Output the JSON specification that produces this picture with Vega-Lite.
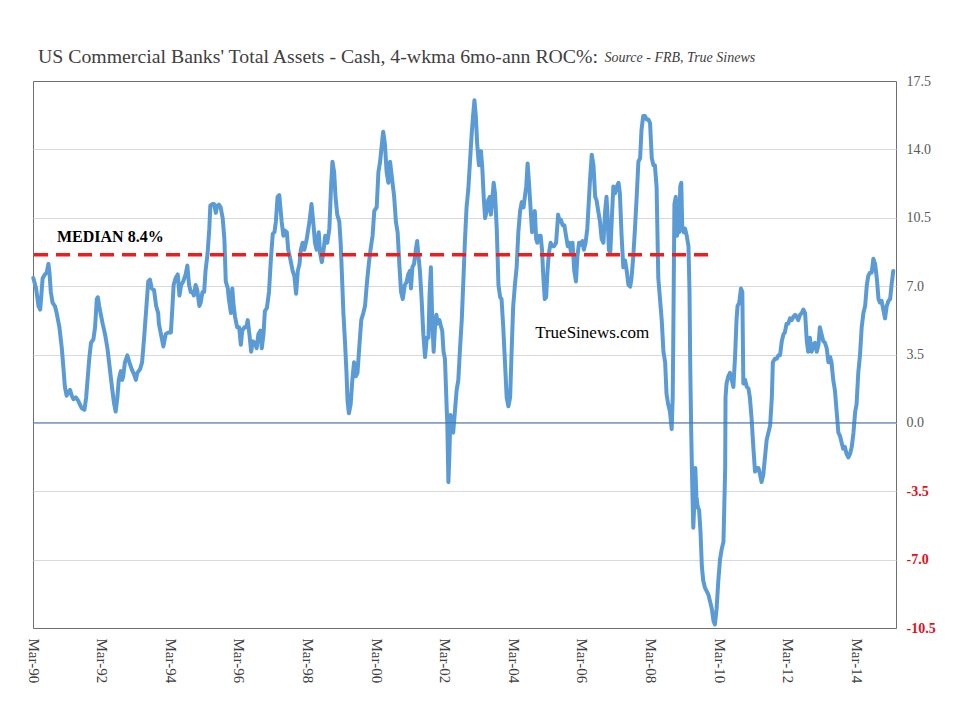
{
  "$schema": "https://vega.github.io/schema/vega-lite/v6.json",
  "width": 863,
  "height": 547,
  "autosize": {"type": "none"},
  "padding": {"left": 33, "top": 81, "right": 64, "bottom": 92},
  "background": "white",
  "title": {"text": "US Commercial Banks' Total  Assets - Cash, 4-wkma 6mo-ann ROC%:", "anchor": "start", "frame": "group", "offset": -16, "dx": 5, "font": "Liberation Serif", "fontSize": 19.8, "fontWeight": "normal", "color": "#404040"},
  "config": {"view": {"stroke": "#6f6f6f", "strokeWidth": 1}, "font": "Liberation Serif"},
  "datasets": {
    "series": [
      {"t":1990.18,"v":7.42},{"t":1990.26,"v":6.88},{"t":1990.33,"v":5.98},{"t":1990.38,"v":5.8},{"t":1990.42,"v":6.7},{"t":1990.45,"v":7.4},{"t":1990.52,"v":7.6},{"t":1990.57,"v":7.7},{"t":1990.62,"v":8.14},{"t":1990.65,"v":7.7},{"t":1990.69,"v":6.7},{"t":1990.74,"v":6.16},{"t":1990.81,"v":5.98},{"t":1990.86,"v":5.62},{"t":1990.94,"v":4.9},{"t":1991.01,"v":3.82},{"t":1991.06,"v":2.74},{"t":1991.10,"v":1.84},{"t":1991.15,"v":1.39},{"t":1991.20,"v":1.57},{"t":1991.25,"v":1.69},{"t":1991.30,"v":1.39},{"t":1991.35,"v":1.21},{"t":1991.42,"v":1.3},{"t":1991.49,"v":1.12},{"t":1991.54,"v":0.94},{"t":1991.59,"v":0.76},{"t":1991.67,"v":0.67},{"t":1991.72,"v":1.3},{"t":1991.76,"v":2.2},{"t":1991.81,"v":3.28},{"t":1991.86,"v":4.09},{"t":1991.93,"v":4.27},{"t":1991.98,"v":4.9},{"t":1992.03,"v":6.34},{"t":1992.06,"v":6.43},{"t":1992.10,"v":5.98},{"t":1992.14,"v":5.62},{"t":1992.20,"v":5.08},{"t":1992.27,"v":4.54},{"t":1992.34,"v":3.82},{"t":1992.40,"v":2.92},{"t":1992.46,"v":2.02},{"t":1992.53,"v":1.03},{"t":1992.58,"v":0.58},{"t":1992.63,"v":1.3},{"t":1992.67,"v":2.2},{"t":1992.73,"v":2.65},{"t":1992.77,"v":2.2},{"t":1992.80,"v":2.38},{"t":1992.85,"v":3.1},{"t":1992.92,"v":3.46},{"t":1992.98,"v":3.1},{"t":1993.05,"v":2.74},{"t":1993.12,"v":2.47},{"t":1993.17,"v":2.2},{"t":1993.21,"v":2.56},{"t":1993.29,"v":2.74},{"t":1993.35,"v":3.1},{"t":1993.41,"v":4.36},{"t":1993.47,"v":5.8},{"t":1993.53,"v":7.24},{"t":1993.58,"v":7.33},{"t":1993.63,"v":6.88},{"t":1993.70,"v":6.79},{"t":1993.76,"v":5.98},{"t":1993.82,"v":5.62},
      {"t":1993.84,"v":5.08},{"t":1993.90,"v":4.54},{"t":1993.97,"v":3.91},{"t":1994.04,"v":4.54},{"t":1994.12,"v":4.63},{"t":1994.19,"v":4.63},{"t":1994.23,"v":5.8},{"t":1994.27,"v":7.06},{"t":1994.33,"v":7.42},{"t":1994.39,"v":7.6},{"t":1994.44,"v":6.52},{"t":1994.49,"v":7.06},{"t":1994.55,"v":7.24},{"t":1994.62,"v":7.6},{"t":1994.67,"v":8.05},{"t":1994.72,"v":7.06},{"t":1994.77,"v":6.7},{"t":1994.82,"v":6.7},{"t":1994.86,"v":6.52},{"t":1994.91,"v":7.06},{"t":1994.96,"v":6.79},{"t":1995.02,"v":5.98},{"t":1995.06,"v":6.16},{"t":1995.11,"v":6.7},{"t":1995.16,"v":6.7},{"t":1995.20,"v":7.78},{"t":1995.26,"v":8.68},{"t":1995.31,"v":9.94},{"t":1995.34,"v":11.12},{"t":1995.40,"v":11.2},{"t":1995.45,"v":11.2},{"t":1995.50,"v":10.75},{"t":1995.54,"v":11.12},{"t":1995.59,"v":11.17},{"t":1995.64,"v":11.03},{"t":1995.70,"v":10.48},{"t":1995.75,"v":9.4},{"t":1995.79,"v":7.24},{"t":1995.85,"v":6.88},{"t":1995.88,"v":6.34},{"t":1995.94,"v":5.62},{"t":1995.98,"v":6.88},{"t":1996.02,"v":5.98},{"t":1996.06,"v":5.44},{"t":1996.12,"v":4.9},{"t":1996.18,"v":4.9},{"t":1996.23,"v":4.0},{"t":1996.27,"v":4.72},{"t":1996.33,"v":4.9},{"t":1996.39,"v":4.9},{"t":1996.43,"v":5.26},{"t":1996.48,"v":4.54},{"t":1996.53,"v":3.64},{"t":1996.58,"v":4.18},{"t":1996.64,"v":4.09},{"t":1996.69,"v":3.82},{"t":1996.74,"v":4.54},{"t":1996.80,"v":4.72},{"t":1996.84,"v":3.82},{"t":1996.89,"v":4.54},{"t":1996.93,"v":5.71},{"t":1996.99,"v":5.89},{"t":1997.05,"v":6.7},{"t":1997.11,"v":8.5},{"t":1997.16,"v":9.67},{"t":1997.21,"v":9.76},{"t":1997.25,"v":10.3},{"t":1997.30,"v":11.57},{"t":1997.35,"v":11.66},
      {"t":1997.42,"v":10.3},{"t":1997.47,"v":9.58},{"t":1997.51,"v":9.85},{"t":1997.57,"v":9.76},{"t":1997.61,"v":8.86},{"t":1997.68,"v":8.32},{"t":1997.74,"v":7.78},{"t":1997.79,"v":7.51},{"t":1997.84,"v":6.61},{"t":1997.89,"v":7.78},{"t":1997.94,"v":8.14},{"t":1997.98,"v":8.86},{"t":1998.03,"v":9.22},{"t":1998.08,"v":8.86},{"t":1998.15,"v":9.4},{"t":1998.23,"v":10.3},{"t":1998.29,"v":11.2},{"t":1998.34,"v":10.3},{"t":1998.39,"v":9.22},{"t":1998.44,"v":8.86},{"t":1998.50,"v":9.76},{"t":1998.54,"v":8.68},{"t":1998.59,"v":8.23},{"t":1998.63,"v":8.68},{"t":1998.69,"v":9.58},{"t":1998.75,"v":9.22},{"t":1998.81,"v":9.94},{"t":1998.86,"v":12.1},{"t":1998.90,"v":13.37},{"t":1998.95,"v":12.83},{"t":1998.99,"v":11.57},{"t":1999.04,"v":10.66},{"t":1999.10,"v":10.3},{"t":1999.14,"v":9.22},{"t":1999.18,"v":7.42},{"t":1999.22,"v":5.62},{"t":1999.27,"v":4.0},{"t":1999.31,"v":2.56},{"t":1999.34,"v":1.12},{"t":1999.38,"v":0.49},{"t":1999.43,"v":0.94},{"t":1999.48,"v":2.2},{"t":1999.53,"v":3.1},{"t":1999.58,"v":2.38},{"t":1999.63,"v":2.56},{"t":1999.68,"v":3.82},{"t":1999.74,"v":5.26},{"t":1999.80,"v":5.62},{"t":1999.85,"v":5.98},{"t":1999.90,"v":7.06},{"t":1999.96,"v":8.14},{"t":2000.01,"v":8.86},{"t":2000.07,"v":9.58},{"t":2000.12,"v":10.85},{"t":2000.19,"v":11.03},{"t":2000.24,"v":12.83},{"t":2000.29,"v":13.37},{"t":2000.34,"v":14.27},{"t":2000.38,"v":14.9},{"t":2000.43,"v":14.27},{"t":2000.48,"v":12.83},{"t":2000.53,"v":12.29},{"t":2000.58,"v":13.37},{"t":2000.64,"v":12.47},{"t":2000.70,"v":11.57},{"t":2000.75,"v":10.3},{"t":2000.80,"v":9.76},{"t":2000.85,"v":8.14},{"t":2000.90,"v":6.7},{"t":2000.95,"v":6.34},{"t":2001.01,"v":7.06},{"t":2001.06,"v":7.2},
      {"t":2001.11,"v":7.6},{"t":2001.16,"v":7.78},{"t":2001.19,"v":6.88},{"t":2001.23,"v":7.96},{"t":2001.28,"v":8.14},{"t":2001.33,"v":8.86},{"t":2001.37,"v":9.31},{"t":2001.40,"v":8.68},{"t":2001.45,"v":7.78},{"t":2001.50,"v":6.34},{"t":2001.55,"v":4.54},{"t":2001.60,"v":3.37},{"t":2001.65,"v":4.36},{"t":2001.70,"v":4.36},{"t":2001.73,"v":6.52},{"t":2001.77,"v":7.96},{"t":2001.81,"v":5.26},{"t":2001.85,"v":3.64},{"t":2001.89,"v":4.9},{"t":2001.93,"v":5.53},{"t":2001.97,"v":5.08},{"t":2002.02,"v":5.26},{"t":2002.07,"v":4.9},{"t":2002.10,"v":4.72},{"t":2002.14,"v":3.64},{"t":2002.18,"v":3.28},{"t":2002.22,"v":1.3},{"t":2002.25,"v":-0.14},{"t":2002.28,"v":-3.03},{"t":2002.31,"v":-1.59},{"t":2002.34,"v":0.4},{"t":2002.38,"v":0.22},{"t":2002.42,"v":-0.5},{"t":2002.47,"v":0.58},{"t":2002.52,"v":1.66},{"t":2002.57,"v":2.2},{"t":2002.62,"v":3.82},{"t":2002.67,"v":5.26},{"t":2002.72,"v":7.42},{"t":2002.76,"v":9.22},{"t":2002.81,"v":11.03},{"t":2002.86,"v":11.93},{"t":2002.91,"v":13.37},{"t":2002.96,"v":14.81},{"t":2003.00,"v":15.71},{"t":2003.04,"v":16.52},{"t":2003.08,"v":15.71},{"t":2003.12,"v":14.27},{"t":2003.17,"v":13.19},{"t":2003.23,"v":13.91},{"t":2003.27,"v":13.01},{"t":2003.31,"v":11.57},{"t":2003.35,"v":10.48},{"t":2003.40,"v":10.84},{"t":2003.44,"v":11.39},{"t":2003.49,"v":11.57},{"t":2003.52,"v":10.66},{"t":2003.56,"v":11.39},{"t":2003.60,"v":12.29},{"t":2003.64,"v":11.75},{"t":2003.69,"v":9.94},{"t":2003.74,"v":7.06},{"t":2003.79,"v":6.43},{"t":2003.83,"v":6.34},{"t":2003.88,"v":4.9},{"t":2003.93,"v":3.1},{"t":2003.98,"v":1.3},{"t":2004.03,"v":0.85},{"t":2004.08,"v":1.3},{"t":2004.13,"v":4.0},{"t":2004.17,"v":5.98},{"t":2004.22,"v":7.06},{"t":2004.27,"v":7.96},{"t":2004.32,"v":9.76},{"t":2004.37,"v":10.84},{"t":2004.42,"v":11.3},{"t":2004.47,"v":11.03},{"t":2004.51,"v":11.57},{"t":2004.55,"v":12.1},{"t":2004.59,"v":13.28},{"t":2004.63,"v":12.29},
      {"t":2004.72,"v":9.76},{"t":2004.76,"v":10.66},{"t":2004.80,"v":10.84},{"t":2004.84,"v":9.4},{"t":2004.87,"v":9.22},{"t":2004.92,"v":9.58},{"t":2004.97,"v":9.58},{"t":2005.01,"v":8.86},{"t":2005.05,"v":7.42},{"t":2005.09,"v":6.34},{"t":2005.13,"v":6.43},{"t":2005.17,"v":7.78},{"t":2005.21,"v":8.68},{"t":2005.26,"v":9.22},{"t":2005.31,"v":9.04},{"t":2005.36,"v":9.04},{"t":2005.42,"v":9.22},{"t":2005.48,"v":10.66},{"t":2005.52,"v":10.3},{"t":2005.56,"v":10.39},{"t":2005.61,"v":10.12},{"t":2005.66,"v":10.12},{"t":2005.71,"v":9.58},{"t":2005.76,"v":9.04},{"t":2005.81,"v":9.22},{"t":2005.86,"v":8.68},{"t":2005.90,"v":9.22},{"t":2005.95,"v":7.78},{"t":2006.00,"v":7.24},{"t":2006.04,"v":8.5},{"t":2006.09,"v":9.22},{"t":2006.14,"v":9.13},{"t":2006.19,"v":9.31},{"t":2006.23,"v":8.86},{"t":2006.28,"v":9.22},{"t":2006.33,"v":9.94},{"t":2006.37,"v":11.2},{"t":2006.41,"v":12.47},{"t":2006.46,"v":13.73},{"t":2006.51,"v":13.19},{"t":2006.56,"v":11.57},{"t":2006.60,"v":11.39},{"t":2006.65,"v":10.84},{"t":2006.70,"v":10.3},{"t":2006.75,"v":9.4},{"t":2006.80,"v":9.22},{"t":2006.85,"v":10.84},{"t":2006.89,"v":11.57},{"t":2006.92,"v":10.66},{"t":2006.96,"v":8.86},{"t":2007.00,"v":8.68},{"t":2007.05,"v":10.66},{"t":2007.09,"v":12.1},{"t":2007.14,"v":11.75},{"t":2007.19,"v":12.1},{"t":2007.24,"v":12.29},{"t":2007.28,"v":11.75},{"t":2007.33,"v":9.58},{"t":2007.38,"v":7.96},{"t":2007.43,"v":8.32},{"t":2007.48,"v":7.78},{"t":2007.53,"v":7.06},{"t":2007.58,"v":6.97},{"t":2007.62,"v":7.42},{"t":2007.67,"v":8.5},{"t":2007.72,"v":9.94},{"t":2007.77,"v":11.57},{"t":2007.82,"v":13.37},{"t":2007.87,"v":13.55},{"t":2007.91,"v":14.99},{"t":2007.96,"v":15.71},{"t":2008.01,"v":15.71},{"t":2008.06,"v":15.53},{"t":2008.11,"v":15.53},{"t":2008.16,"v":15.35},{"t":2008.21,"v":13.55},{"t":2008.26,"v":13.19},{"t":2008.30,"v":13.19},{"t":2008.35,"v":12.1},
      {"t":2008.40,"v":7.42},{"t":2008.45,"v":6.34},{"t":2008.50,"v":5.26},{"t":2008.55,"v":3.64},{"t":2008.60,"v":3.1},{"t":2008.64,"v":1.48},{"t":2008.69,"v":0.94},{"t":2008.74,"v":0.58},{"t":2008.79,"v":-0.32},{"t":2008.82,"v":1.3},{"t":2008.84,"v":4.9},{"t":2008.87,"v":11.2},{"t":2008.91,"v":11.57},{"t":2008.95,"v":9.58},{"t":2008.98,"v":10.3},{"t":2009.01,"v":9.76},{"t":2009.04,"v":12.1},{"t":2009.07,"v":12.29},{"t":2009.10,"v":9.94},{"t":2009.14,"v":9.76},{"t":2009.18,"v":9.94},{"t":2009.23,"v":9.58},{"t":2009.28,"v":9.04},{"t":2009.31,"v":6.7},{"t":2009.33,"v":3.1},{"t":2009.36,"v":-0.5},{"t":2009.39,"v":-3.21},{"t":2009.42,"v":-5.37},{"t":2009.45,"v":-4.11},{"t":2009.48,"v":-2.31},{"t":2009.51,"v":-3.75},{"t":2009.55,"v":-4.29},{"t":2009.59,"v":-4.47},{"t":2009.63,"v":-5.55},{"t":2009.67,"v":-7.35},{"t":2009.71,"v":-8.07},{"t":2009.76,"v":-8.43},{"t":2009.81,"v":-8.61},{"t":2009.86,"v":-8.79},{"t":2009.91,"v":-9.15},{"t":2009.96,"v":-9.51},{"t":2010.01,"v":-10.14},{"t":2010.05,"v":-10.32},{"t":2010.10,"v":-9.51},{"t":2010.15,"v":-8.07},{"t":2010.20,"v":-6.99},{"t":2010.25,"v":-6.45},{"t":2010.30,"v":-6.09},{"t":2010.35,"v":-2.31},{"t":2010.36,"v":1.3},{"t":2010.39,"v":2.02},{"t":2010.44,"v":2.38},{"t":2010.49,"v":2.56},{"t":2010.54,"v":2.2},{"t":2010.59,"v":1.84},{"t":2010.64,"v":3.46},{"t":2010.68,"v":5.26},{"t":2010.71,"v":5.98},{"t":2010.76,"v":6.16},{"t":2010.81,"v":6.88},{"t":2010.85,"v":6.7},{"t":2010.88,"v":2.02},{"t":2010.93,"v":2.2},{"t":2010.98,"v":1.84},{"t":2011.03,"v":1.75},{"t":2011.07,"v":1.3},{"t":2011.12,"v":0.22},{"t":2011.17,"v":-1.23},{"t":2011.22,"v":-2.49},{"t":2011.27,"v":-2.31},{"t":2011.32,"v":-2.31},{"t":2011.37,"v":-2.67},{"t":2011.41,"v":-3.03},{"t":2011.46,"v":-2.67},{"t":2011.51,"v":-1.77},{"t":2011.56,"v":-0.86},{"t":2011.61,"v":-0.5},{"t":2011.66,"v":-0.14},{"t":2011.71,"v":1.3},{"t":2011.74,"v":3.1},{"t":2011.80,"v":3.28},{"t":2011.85,"v":3.28},{"t":2011.90,"v":3.46},{"t":2011.95,"v":3.46},
      {"t":2012.00,"v":4.18},{"t":2012.05,"v":4.54},{"t":2012.09,"v":4.63},{"t":2012.14,"v":5.08},{"t":2012.19,"v":5.08},{"t":2012.24,"v":5.35},{"t":2012.29,"v":5.26},{"t":2012.34,"v":5.44},{"t":2012.39,"v":5.53},{"t":2012.43,"v":5.44},{"t":2012.48,"v":5.26},{"t":2012.53,"v":5.53},{"t":2012.58,"v":5.62},{"t":2012.63,"v":5.8},{"t":2012.68,"v":5.62},{"t":2012.73,"v":4.18},{"t":2012.77,"v":3.64},{"t":2012.82,"v":4.36},{"t":2012.87,"v":3.64},{"t":2012.92,"v":4.0},{"t":2012.97,"v":4.09},{"t":2013.02,"v":3.64},{"t":2013.07,"v":4.0},{"t":2013.11,"v":4.9},{"t":2013.16,"v":4.54},{"t":2013.21,"v":4.18},{"t":2013.26,"v":4.09},{"t":2013.31,"v":3.82},{"t":2013.36,"v":3.1},{"t":2013.41,"v":3.37},{"t":2013.45,"v":3.1},{"t":2013.50,"v":2.2},{"t":2013.55,"v":1.66},{"t":2013.60,"v":0.58},{"t":2013.65,"v":-0.5},{"t":2013.70,"v":-0.68},{"t":2013.75,"v":-1.04},{"t":2013.79,"v":-1.32},{"t":2013.84,"v":-1.23},{"t":2013.89,"v":-1.59},{"t":2013.94,"v":-1.77},{"t":2013.99,"v":-1.59},{"t":2014.04,"v":-1.23},{"t":2014.09,"v":-0.5},{"t":2014.14,"v":0.58},{"t":2014.18,"v":0.94},{"t":2014.23,"v":2.56},{"t":2014.28,"v":3.46},{"t":2014.33,"v":4.9},{"t":2014.38,"v":5.62},{"t":2014.43,"v":5.98},{"t":2014.48,"v":7.06},{"t":2014.52,"v":7.51},{"t":2014.57,"v":7.69},{"t":2014.62,"v":7.69},{"t":2014.67,"v":8.4},{"t":2014.72,"v":8.14},{"t":2014.77,"v":7.42},{"t":2014.82,"v":6.34},{"t":2014.86,"v":6.16},{"t":2014.91,"v":6.25},{"t":2014.96,"v":5.8},{"t":2015.01,"v":5.35},{"t":2015.06,"v":5.98},{"t":2015.11,"v":6.25},{"t":2015.16,"v":6.34},{"t":2015.20,"v":7.06},{"t":2015.25,"v":7.78}
    ],
    "median": [{"start": 1990.2, "end": 2009.88, "median": 8.6}]
  },
  "layer": [
    {
      "data": {"name": "series"},
      "mark": {"type": "line", "color": "#5b9bd5", "strokeWidth": 4, "strokeJoin": "round", "strokeCap": "round"},
      "encoding": {
        "x": {"field": "t", "type": "quantitative",
          "scale": {"domain": [1990.17, 2015.33], "nice": false, "zero": false},
          "axis": {"orient": "bottom", "values": [1990.17, 1992.17, 1994.17, 1996.17, 1998.17, 2000.17, 2002.17, 2004.17, 2006.17, 2008.17, 2010.17, 2012.17, 2014.17],
            "labelExpr": "'Mar-' + slice(toString(floor(datum.value)), 2)",
            "labelAngle": 90, "labelAlign": "left", "labelBaseline": "middle", "labelPadding": 10,
            "grid": false, "domain": false, "ticks": false, "title": null,
            "labelFont": "Liberation Serif", "labelFontSize": 15, "labelColor": "#404040",
            "labelFlush": false, "labelOverlap": false, "labelBound": false}},
        "y": {"field": "v", "type": "quantitative",
          "scale": {"domain": [-10.5, 17.5], "nice": false, "zero": false},
          "axis": {"orient": "right", "values": [-10.5, -7, -3.5, 0, 3.5, 7, 10.5, 14, 17.5],
            "labelExpr": "(datum.value < 0 ? '-' : '') + format(abs(datum.value), '.1f')",
            "title": null, "grid": true, "gridColor": "#d9d9d9", "gridWidth": 1,
            "gridOpacity": {"condition": {"test": "datum.value === 17.5 || datum.value === -10.5", "value": 0}, "value": 1},
            "domain": false, "ticks": false, "labelPadding": 10, "labelAlign": "left", "labelBaseline": "middle",
            "labelFont": "Liberation Serif", "labelFontSize": 14,
            "labelColor": {"expr": "datum.value < 0 ? '#e0101e' : '#595959'"},
            "labelFontWeight": {"expr": "datum.value < 0 ? 'bold' : 'normal'"},
            "labelOverlap": false, "labelFlush": false, "labelBound": false}}
      }
    },
    {
      "data": {"values": [{"level": 0}]},
      "mark": {"type": "rule", "color": "#3d6fa8", "strokeWidth": 1},
      "encoding": {
        "y": {"field": "level", "type": "quantitative", "axis": {"orient": "right", "title": null}}
      }
    },
    {
      "data": {"name": "median"},
      "mark": {"type": "rule", "color": "#ee1c1c", "strokeWidth": 3.5, "strokeDash": [14, 8]},
      "encoding": {
        "x": {"field": "start", "type": "quantitative", "axis": {"orient": "bottom", "title": null}},
        "x2": {"field": "end"},
        "y": {"field": "median", "type": "quantitative", "axis": {"orient": "right", "title": null}}
      }
    },
    {
      "data": {"values": [{"label": "MEDIAN 8.4%"}]},
      "mark": {"type": "text", "align": "left", "baseline": "middle", "font": "Liberation Serif", "fontSize": 16, "fontWeight": "bold", "color": "#000000"},
      "encoding": {
        "x": {"datum": 1990.87, "type": "quantitative", "axis": {"orient": "bottom", "title": null}},
        "y": {"datum": 9.52, "type": "quantitative", "axis": {"orient": "right", "title": null}},
        "text": {"field": "label"}
      }
    },
    {
      "data": {"values": [{"label": "TrueSinews.com"}]},
      "mark": {"type": "text", "align": "left", "baseline": "middle", "font": "Liberation Serif", "fontSize": 17, "color": "#000000"},
      "encoding": {
        "x": {"datum": 2004.81, "type": "quantitative", "axis": {"orient": "bottom", "title": null}},
        "y": {"datum": 4.6, "type": "quantitative", "axis": {"orient": "right", "title": null}},
        "text": {"field": "label"}
      }
    },
    {
      "data": {"values": [{"label": "Source - FRB, True Sinews"}]},
      "mark": {"type": "text", "align": "left", "baseline": "alphabetic", "font": "Liberation Serif", "fontSize": 14, "fontStyle": "italic", "color": "#404040"},
      "encoding": {
        "x": {"datum": 2006.83, "type": "quantitative", "axis": {"orient": "bottom", "title": null}},
        "y": {"datum": 18.47, "type": "quantitative", "axis": {"orient": "right", "title": null}},
        "text": {"field": "label"}
      }
    }
  ]
}
